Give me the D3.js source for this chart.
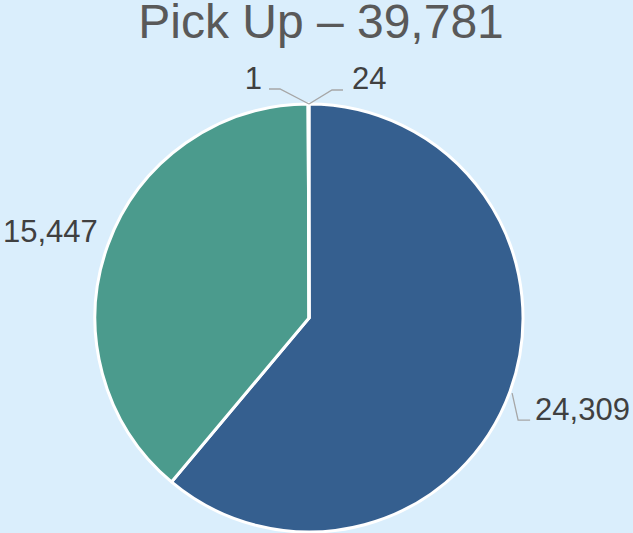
<!DOCTYPE html>
<html>
<head>
<meta charset="utf-8">
<script src="https://cdn.jsdelivr.net/npm/d3@7"></script>
<style>
  html, body { margin: 0; padding: 0; background: #daeefc; }
  svg { display: block; font-family: "Liberation Sans", Arial, sans-serif; }
</style>
</head>
<body>
<div id="chart"></div>
<script>
// Slice data, clockwise from 12 o'clock
const categories = ["A", "B", "C", "D"];
const values = [24309, 15447, 1, 24];
const sliceColors = ["#355f8f", "#4b9b8d", "#7a8fa6", "#6d86a8"];
const chartTitle = "Pick Up \u2013 39,781";

const width = 633, height = 533;
const cx = 309, cy = 318, radius = 214;

const data = categories.map((c, i) => ({ name: c, value: values[i], color: sliceColors[i] }));

const svg = d3.select("#chart")
    .append("svg")
    .attr("width", width)
    .attr("height", height);

svg.append("rect")
    .attr("width", width)
    .attr("height", height)
    .attr("fill", "#daeefc");

// Title
svg.append("text")
    .attr("x", 321)
    .attr("y", 38)
    .attr("text-anchor", "middle")
    .style("fill", "#595959")
    .style("font-size", "48px")
    .text(chartTitle);

const pie = d3.pie()
    .value(d => d.value)
    .sort(null);

const arc = d3.arc()
    .innerRadius(0)
    .outerRadius(radius);

const g = svg.append("g")
    .attr("transform", `translate(${cx}, ${cy})`);

const arcs = pie(data);

g.selectAll("path")
    .data(arcs)
    .enter()
    .append("path")
    .attr("d", arc)
    .attr("fill", d => d.data.color)
    .attr("stroke", "#fff")
    .attr("stroke-width", 3)
    .attr("stroke-linejoin", "round");

// Labels: point on the rim, then a little leader line where Excel used one
const fmt = d3.format(",");
const pointOnRim = (angle, r) => [Math.sin(angle) * r, -Math.cos(angle) * r];

// layout per slice: label offset from rim point, leader style
const labelLayout = [
    { dx: 25, dy: 18, anchor: "start", leader: "down" },
    { dx: -10, dy: -14, anchor: "end", leader: null },
    { dx: -47, dy: -26, anchor: "end", leader: "left" },
    { dx: 43, dy: -26, anchor: "start", leader: "right" }
];

const lab = svg.append("g").attr("transform", `translate(${cx}, ${cy})`);

const leader = pts => lab.append("polyline")
    .attr("points", pts.join(" "))
    .attr("fill", "none")
    .attr("stroke", "#a6a6a6")
    .attr("stroke-width", 1.3);

arcs.forEach((d, i) => {
    const L = labelLayout[i];
    const mid = (d.startAngle + d.endAngle) / 2;
    let [px, py] = pointOnRim(mid, radius);
    if (L.leader === "left" || L.leader === "right") {
        // tiny slices at the top: start at the pie's top point
        px = 0;
    }
    const tx = px + L.dx, ty = py + L.dy;

    if (L.leader === "down") {
        leader([[px + 2, py + 2], [px + 8, py + 29], [px + 20, py + 29]]);
    } else if (L.leader === "left") {
        leader([[px, py], [px - 29, py - 15], [px - 40, py - 15]]);
    } else if (L.leader === "right") {
        leader([[px, py], [px + 23, py - 14], [px + 34, py - 14]]);
    }

    lab.append("text")
        .attr("x", tx)
        .attr("y", ty)
        .attr("text-anchor", L.anchor)
        .attr("dy", "0.35em")
        .style("fill", "#404040")
        .style("font-size", "31px")
        .text(fmt(d.data.value));
});
</script>
</body>
</html>
